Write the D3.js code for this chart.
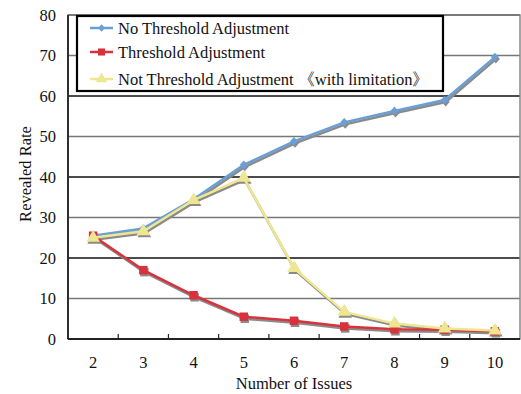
<!DOCTYPE html>
<html><head><meta charset="utf-8">
<script src="https://cdn.jsdelivr.net/npm/d3@7"></script>
<style>body{margin:0;background:#fff}svg{display:block}</style>
</head><body><svg id="c" width="521" height="394"></svg>
<script>
const categories = [2,3,4,5,6,7,8,9,10];
const noThreshold = [25.5,27.3,34.5,43.0,48.8,53.5,56.3,59.0,69.6];
const threshold = [25.5,17.0,10.8,5.5,4.5,3.1,2.4,2.3,1.9];
const limited = [25.0,26.6,34.3,39.8,17.5,6.7,3.8,2.6,2.1];
const yTicks = [0,10,20,30,40,50,60,70,80];
const seriesNames = ["No Threshold Adjustment","Threshold Adjustment","Not Threshold Adjustment \u300awith limitation\u300b"];
const colors = ["#6a9fd6","#d8333d","#efe691"];

const svg = d3.select("#c");
const FONT = "Liberation Serif";
const L=68,R=520,T=15,B=339;
const x = d3.scaleBand().domain(categories).range([L,R]);
const y = d3.scaleLinear().domain([0,80]).range([B,T]);

svg.append("g").selectAll("line").data(yTicks.filter(d=>d>0)).join("line")
  .attr("x1",L).attr("x2",R).attr("y1",d=>y(d)).attr("y2",d=>y(d))
  .attr("stroke",(d,i)=>i%2? "#111":"#777").attr("stroke-width",1.3);
svg.append("rect").attr("x",L).attr("y",T).attr("width",R-L).attr("height",B-T)
  .attr("fill","none").attr("stroke","#888").attr("stroke-width",1.5);
svg.append("line").attr("x1",L).attr("x2",L).attr("y1",T).attr("y2",B).attr("stroke","#222").attr("stroke-width",1.8);
svg.append("line").attr("x1",L).attr("x2",R).attr("y1",B).attr("y2",B).attr("stroke","#222").attr("stroke-width",1.8);
svg.append("g").selectAll("line").data(categories.slice(1)).join("line")
  .attr("x1",d=>x(d)).attr("x2",d=>x(d)).attr("y1",B).attr("y2",B-5)
  .attr("stroke","#222").attr("stroke-width",1.2);
svg.append("g").selectAll("text").data(yTicks).join("text")
  .attr("x",L-12).attr("y",d=>y(d)+5.5).attr("text-anchor","end")
  .style("font-family",FONT).attr("font-size",16.5).attr("fill","#111").text(d=>d);
svg.append("g").selectAll("text").data(categories).join("text")
  .attr("x",d=>x(d)+x.bandwidth()/2).attr("y",B+29).attr("text-anchor","middle")
  .style("font-family",FONT).attr("font-size",16.5).attr("fill","#111").text(d=>d);
svg.append("text").attr("transform",`translate(31,174) rotate(-90)`).attr("text-anchor","middle")
  .style("font-family",FONT).attr("font-size",16.5).attr("fill","#111").text("Revealed Rate");
svg.append("text").attr("x",(L+R)/2).attr("y",389).attr("text-anchor","middle")
  .style("font-family",FONT).attr("font-size",16.5).attr("fill","#111").text("Number of Issues");

const allSeries = [noThreshold, threshold, limited];
const cx = d=>x(d)+x.bandwidth()/2;
const line = d3.line().x((d,i)=>cx(categories[i])).y(d=>y(d));
const diamond = {draw(ctx,size){const r=Math.sqrt(size)/2;ctx.moveTo(0,-r*1.1);ctx.lineTo(r,0);ctx.lineTo(0,r*1.1);ctx.lineTo(-r,0);ctx.closePath();}};
const symTypes = [diamond, d3.symbolSquare, d3.symbolTriangle];
const symSizes = [64,72,80];

allSeries.forEach((s,k)=>{
  const g = svg.append("g").attr("transform","translate(1,2)");
  g.append("path").attr("d",line(s)).attr("fill","none").attr("stroke","#8a8a8a").attr("stroke-width",2.5);
  g.selectAll("path.m").data(s).join("path").attr("class","m")
    .attr("transform",(d,i)=>`translate(${cx(categories[i])},${y(d)})`)
    .attr("d",d3.symbol().type(symTypes[k]).size(symSizes[k])).attr("fill","#8a8a8a");
});
allSeries.forEach((s,k)=>{
  const g = svg.append("g");
  g.append("path").attr("d",line(s)).attr("fill","none").attr("stroke",colors[k]).attr("stroke-width",2.5);
  g.selectAll("path.m").data(s).join("path").attr("class","m")
    .attr("transform",(d,i)=>`translate(${cx(categories[i])},${y(d)})`)
    .attr("d",d3.symbol().type(symTypes[k]).size(symSizes[k])).attr("fill",colors[k]);
});

const lg = svg.append("g");
lg.append("rect").attr("x",77).attr("y",16).attr("width",366).attr("height",75)
  .attr("fill","#fff").attr("stroke","#000").attr("stroke-width",2.2);
const ly = [28,52,79];
seriesNames.forEach((n,k)=>{
  lg.append("line").attr("x1",90).attr("x2",113).attr("y1",ly[k]).attr("y2",ly[k]).attr("stroke",colors[k]).attr("stroke-width",2.5);
  lg.append("path").attr("transform",`translate(101.5,${ly[k]})`)
    .attr("d",d3.symbol().type(symTypes[k]).size(symSizes[k]*0.7)).attr("fill",colors[k]);
  lg.append("text").attr("x",118).attr("y",ly[k]+5.5).style("font-family",FONT).attr("font-size",16.5)
    .attr("fill","#111").text(n);
});
</script></body></html>
